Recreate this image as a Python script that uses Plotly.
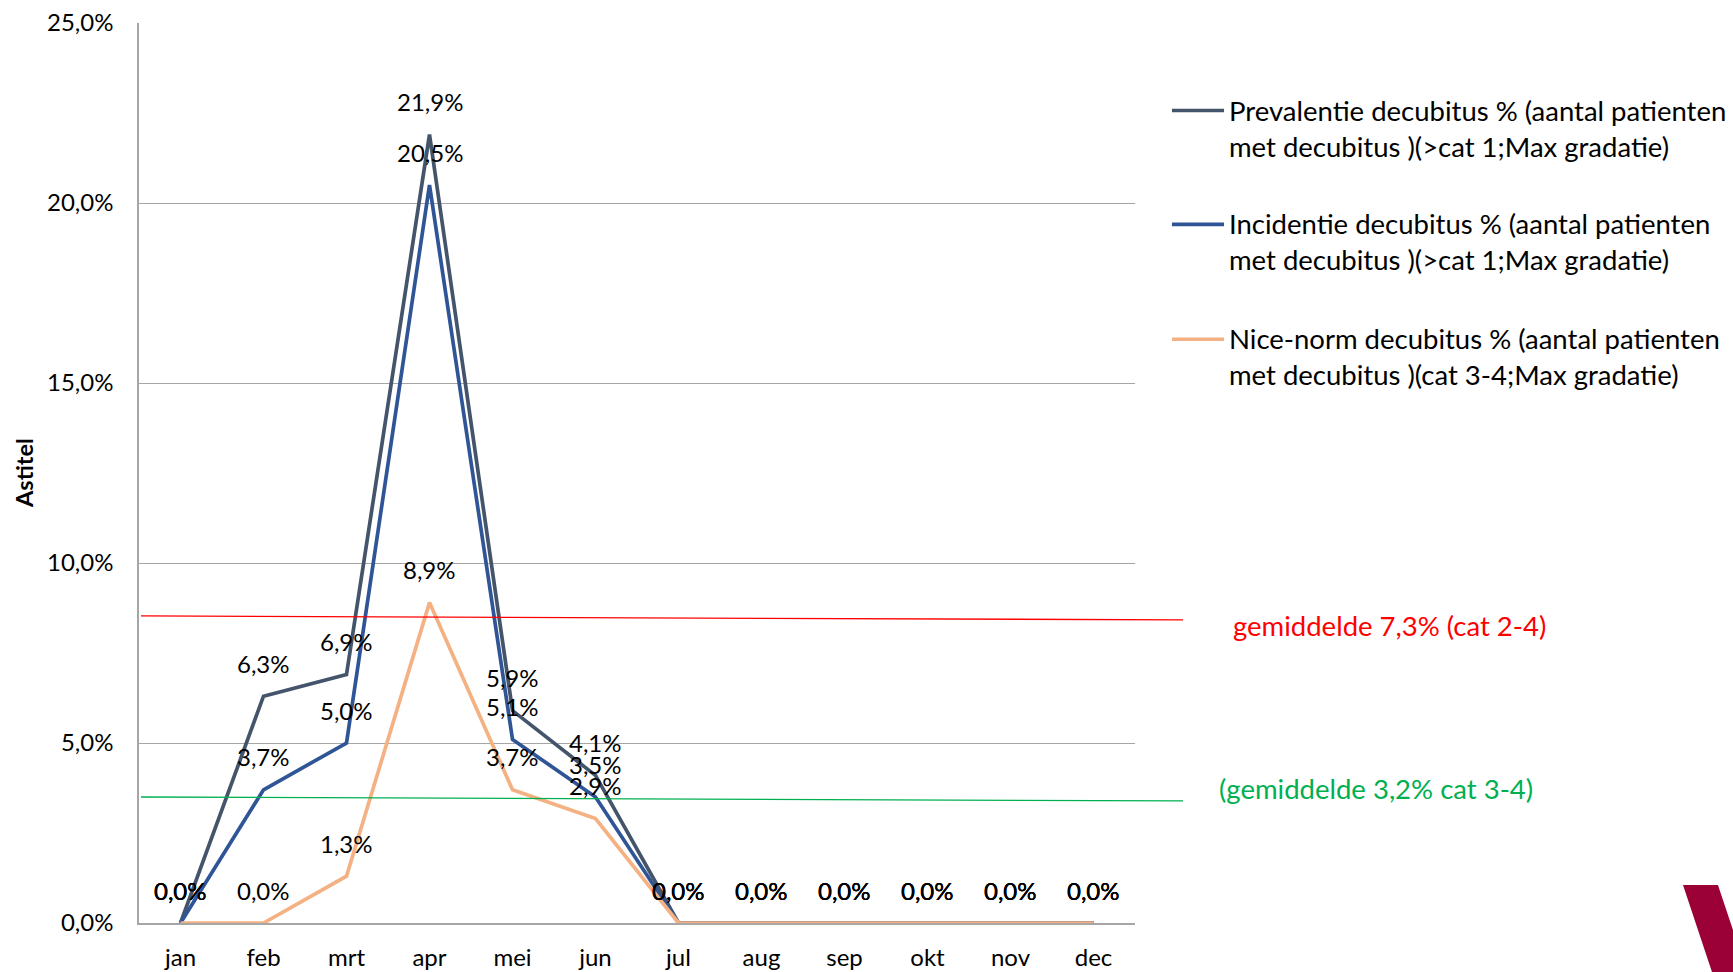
import plotly.graph_objects as go

# Months and monthly decubitus percentages
months = ["jan", "feb", "mrt", "apr", "mei", "jun", "jul", "aug", "sep", "okt", "nov", "dec"]
prevalentie = [0.0, 6.3, 6.9, 21.9, 5.9, 4.1, 0.0, 0.0, 0.0, 0.0, 0.0, 0.0]
incidentie = [0.0, 3.7, 5.0, 20.5, 5.1, 3.5, 0.0, 0.0, 0.0, 0.0, 0.0, 0.0]
nice_norm = [0.0, 0.0, 1.3, 8.9, 3.7, 2.9, 0.0, 0.0, 0.0, 0.0, 0.0, 0.0]

series_names = [
    "Prevalentie decubitus % (aantal patienten<br>met decubitus )(>cat 1;Max gradatie)",
    "Incidentie decubitus % (aantal patienten<br>met decubitus )(>cat 1;Max gradatie)",
    "Nice-norm decubitus % (aantal patienten<br>met decubitus )(cat 3-4;Max gradatie)",
]
series_colors = ["#44546A", "#2F5597", "#F4B183"]

y_ticks = [0, 5, 10, 15, 20, 25]
y_ticktext = ["0,0%", "5,0%", "10,0%", "15,0%", "20,0%", "25,0%"]

# Hand-drawn average reference lines (start / end heights, in %)
red_avg_line = (8.53, 8.42)
green_avg_line = (3.50, 3.39)

FONT = "Lato"
NOTE_SIZE = 27.5


def pct(v):
    return f"{v:.1f}".replace(".", ",") + "%"


fig = go.Figure()

all_series = [prevalentie, incidentie, nice_norm]
for vals, name, color in zip(all_series, series_names, series_colors):
    fig.add_trace(go.Scatter(
        x=months, y=vals, mode="lines", name=name,
        line=dict(color=color, width=3.7), hoverinfo="skip",
    ))

# Data labels above every point
annotations = []
for vals in all_series:
    for m, v in zip(months, vals):
        annotations.append(dict(
            x=m, y=v, xref="x", yref="y", text=pct(v), showarrow=False,
            yshift=33, font=dict(family=FONT, size=24, color="black"),
        ))

# Axis title
annotations.append(dict(
    x=-0.1155, y=0.5, xref="paper", yref="paper", xanchor="center", yanchor="middle",
    text="<b>Astitel</b>", textangle=-90, showarrow=False,
    font=dict(family=FONT, size=23.5, color="black"),
))

# Average notes
annotations.append(dict(
    x=1.0964, y=0.331, xref="paper", yref="paper", xanchor="left", yanchor="middle",
    text="gemiddelde 7,3% (cat 2-4)", showarrow=False,
    font=dict(family=FONT, size=NOTE_SIZE, color="#FF0000"),
))
annotations.append(dict(
    x=1.0823, y=0.150, xref="paper", yref="paper", xanchor="left", yanchor="middle",
    text="(gemiddelde 3,2% cat 3-4)", showarrow=False,
    font=dict(family=FONT, size=NOTE_SIZE, color="#00B050"),
))

shapes = [
    dict(type="line", xref="paper", yref="y", x0=0.002, x1=1.0482,
         y0=red_avg_line[0], y1=red_avg_line[1], line=dict(color="#FF0000", width=1.3)),
    dict(type="line", xref="paper", yref="y", x0=0.002, x1=1.0482,
         y0=green_avg_line[0], y1=green_avg_line[1], line=dict(color="#00B050", width=1.3)),
    # corner logo mark
    dict(type="path", xref="paper", yref="paper",
         path="M 1.5502 0.0422 L 1.5853 0.0422 L 1.6145 -0.0544 L 1.5793 -0.0544 Z",
         fillcolor="#9B0036", line=dict(width=0)),
]

# Legend on the right: a line sample aligned with the first text row of each entry
legend_line_y = [0.9028, 0.7762, 0.6486]
legend_text_y = [0.8831, 0.7570, 0.6293]
for name, color, ly, ty in zip(series_names, series_colors, legend_line_y, legend_text_y):
    shapes.append(dict(type="line", xref="paper", yref="paper", x0=1.0371, x1=1.0894,
                       y0=ly, y1=ly, line=dict(color=color, width=3.7)))
    annotations.append(dict(
        x=1.0922, y=ty, xref="paper", yref="paper", xanchor="left", yanchor="middle",
        align="left", text=name, showarrow=False,
        font=dict(family=FONT, size=NOTE_SIZE, color="black"),
    ))

fig.update_layout(
    width=1733, height=972,
    margin=dict(l=139, r=598, t=23, b=49),
    paper_bgcolor="white", plot_bgcolor="white",
    font=dict(family=FONT, size=24, color="black"),
    showlegend=False,
    annotations=annotations,
    shapes=shapes,
    xaxis=dict(
        type="category", range=[-0.5, 11.5], showgrid=False,
        showline=True, linecolor="#A6A6A6", linewidth=1.5,
        ticks="", ticklabelstandoff=12, automargin=False,
        tickfont=dict(family=FONT, size=24, color="black"),
        fixedrange=True,
    ),
    yaxis=dict(
        range=[0, 25], tickvals=y_ticks, ticktext=y_ticktext,
        showgrid=True, gridcolor="#A6A6A6", gridwidth=1,
        showline=True, linecolor="#A6A6A6", linewidth=1.5,
        zeroline=False, ticks="", ticklabelstandoff=19, automargin=False,
        tickfont=dict(family=FONT, size=24, color="black"),
        fixedrange=True,
    ),
)

fig.write_html("out.html")
